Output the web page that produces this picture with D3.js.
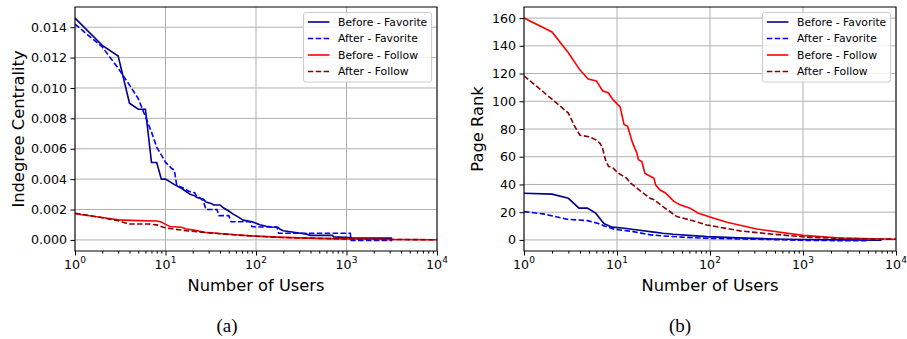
<html>
<script src="https://d3js.org/d3.v7.min.js"></script>
<body style="margin:0; background:#fff">
<svg id="chart" width="907" height="339"></svg>
<script>
// series look: same order in both panels
const seriesNames = ["Before - Favorite", "After - Favorite", "Before - Follow", "After - Follow"];
const seriesColors = ["#00008b", "#0000ff", "#ff0000", "#8b0000"];
const seriesDashed = [false, true, false, true];

// x axis (Number of Users, log)
const xDomain = [1, 10000];
const xMajor = [1, 10, 100, 1000, 10000];

// (a) Indegree Centrality, pairs of [users, value]
const icBeforeFav = [[1,0.0146],[2,0.0128],[3,0.0121],[4,0.0090],[5,0.0086],[6,0.0086],[7,0.0051],[8,0.0051],
  [9,0.0040],[10,0.0040],[12.7,0.00362],[15,0.0034],[18.7,0.0030],[21,0.0029],[22,0.0028],[26,0.0027],[28,0.0025],
  [32,0.0024],[34,0.0023],[40,0.0023],[44,0.0021],[50,0.0019],[56,0.0017],[64,0.0015],[72,0.0013],[90,0.0012],
  [100,0.0011],[110,0.0010],[130,0.0009],[150,0.00085],[175,0.00083],[185,0.0007],[200,0.0006],[260,0.0005],
  [300,0.00045],[360,0.00038],[400,0.0003],[700,0.0003],[720,0.0002],[1100,0.00015],[1150,0.00012],[3200,0.00012]];
const icAfterFav = [[1,0.0142],[2,0.0127],[3,0.0113],[4,0.0102],[5,0.0093],[6.2,0.0079],[7,0.0071],[8,0.0061],
  [9.4,0.0054],[10,0.0051],[11.7,0.0047],[12.5,0.0046],[13.3,0.0036],[16,0.0034],[18,0.0032],[21,0.0031],[22,0.0029],
  [26,0.0026],[28,0.0020],[37,0.0020],[39,0.0016],[50,0.0016],[53,0.0012],[86,0.0012],[90,0.00088],[100,0.00085],
  [170,0.00085],[178,0.00044],[1100,0.00044],[1130,-0.00003],[3200,-0.00003]];
const icBeforeFollow = [[1,0.00172],[2,0.00148],[3,0.00132],[5,0.00127],[8,0.00124],[9,0.00118],[10,0.00102],
  [11.2,0.00088],[15,0.00083],[17,0.00072],[20,0.00066],[27,0.00050],[40,0.00042],[70,0.00031],[100,0.00025],
  [200,0.00017],[500,0.00010],[1000,0.00007],[3000,0.00003],[10000,0.00001]];
const icAfterFollow = [[1,0.00176],[2,0.00146],[3,0.00127],[3.9,0.00105],[6.5,0.00105],[8,0.00099],[9.9,0.00080],
  [12.7,0.00070],[18,0.00059],[27,0.00049],[40,0.00041],[70,0.00030],[100,0.00024],[200,0.00016],[500,0.00010],
  [1000,0.00006],[3000,0.00003],[10000,0.00001]];

// (b) Page Rank
const prBeforeFav = [[1,33.7],[2,33],[3,30],[3.9,22.9],[4.8,22.9],[5.9,19.3],[7,13],[7.3,11.6],[8.9,9.2],[12,8.4],
  [16.6,7.2],[25,5.6],[31,4.8],[40,4.1],[92,2.4],[200,1.5],[480,0.7],[1000,0.3],[3000,0],[7000,-0.2]];
const prAfterFav = [[1,20.4],[1.6,18.8],[2.9,14.9],[4.8,13.9],[6.2,12],[7.3,10.1],[9.3,7.7],[15,6],[23,3.6],
  [31,2.9],[50,2],[92,1.2],[200,0.7],[500,0.2],[1000,-0.3],[3000,-0.6],[5000,-0.6]];
const prBeforeFollow = [[1,160],[2,150],[3,135],[4,122.5],[4.9,116],[6,114.7],[7,107.6],[8.1,106],[9.1,101],
  [10.8,96],[11.9,83.3],[13,82],[14.7,70],[16.3,63],[17,57.8],[18.5,56.5],[20,48],[22,46.5],[25,44.5],[26,39.7],
  [29,36],[33,34],[40.6,28],[47.6,25.3],[61,22.9],[75,19.3],[100,16.5],[152,12.8],[318,7.9],[1000,3.3],[2500,1.4],
  [10000,0.5]];
const prAfterFollow = [[1,118.4],[2,101.5],[3,91.5],[3.5,82],[4,75.5],[5,74.4],[6,72],[6.6,69.5],[7,66],[7.5,58],
  [8.1,53],[9.1,51.8],[10.3,48.2],[12.7,44.5],[14,41],[17.7,35.5],[22.7,30],[25,29],[32.8,23],[44,16.8],
  [61,14.4],[92.5,10.8],[211,6.5],[480,4.1],[1100,2],[3000,1],[10000,0.5]];

const panels = [
  { box: {left: 75, right: 437, top: 7, bottom: 251}, yDomain: [-0.00073, 0.01533],
    yTicks: [0, 0.002, 0.004, 0.006, 0.008, 0.010, 0.012, 0.014], fmt: d3.format(".3f"),
    ylabel: "Indegree Centrality", ylabelX: 24, caption: "(a)", captionX: 227,
    series: [icBeforeFav, icAfterFav, icBeforeFollow, icAfterFollow] },
  { box: {left: 524, right: 896, top: 7, bottom: 251}, yDomain: [-8, 168],
    yTicks: [0, 20, 40, 60, 80, 100, 120, 140, 160], fmt: d3.format("d"),
    ylabel: "Page Rank", ylabelX: 483, caption: "(b)", captionX: 680,
    series: [prBeforeFav, prAfterFav, prBeforeFollow, prAfterFollow] }
];

const svg = d3.select("#chart");
const font = "DejaVu Sans, sans-serif";

panels.forEach(function(p, pi) {
  const b = p.box;
  const x = d3.scaleLog().domain(xDomain).range([b.left, b.right]);
  const y = d3.scaleLinear().domain(p.yDomain).range([b.bottom, b.top]);
  const g = svg.append("g");

  // grid
  g.selectAll(".gx").data(xMajor).join("line")
    .attr("x1", d => x(d)).attr("x2", d => x(d)).attr("y1", b.top).attr("y2", b.bottom)
    .attr("stroke", "#b0b0b0").attr("stroke-width", 1);
  g.selectAll(".gy").data(p.yTicks).join("line")
    .attr("x1", b.left).attr("x2", b.right).attr("y1", d => y(d)).attr("y2", d => y(d))
    .attr("stroke", "#b0b0b0").attr("stroke-width", 1);

  // lines
  svg.append("clipPath").attr("id", "clip" + pi).append("rect")
    .attr("x", b.left).attr("y", b.top).attr("width", b.right - b.left).attr("height", b.bottom - b.top);
  const line = d3.line().x(d => x(d[0])).y(d => y(d[1]));
  p.series.forEach(function(s, i) {
    g.append("path").datum(s)
      .attr("d", line)
      .attr("clip-path", "url(#clip" + pi + ")")
      .attr("fill", "none")
      .attr("stroke", seriesColors[i])
      .attr("stroke-width", 1.6)
      .attr("stroke-dasharray", seriesDashed[i] ? "5.5,2.4" : null);
  });

  // frame
  g.append("rect").attr("x", b.left).attr("y", b.top)
    .attr("width", b.right - b.left).attr("height", b.bottom - b.top)
    .attr("fill", "none").attr("stroke", "#000").attr("stroke-width", 1);

  // y axis
  g.append("g").attr("transform", "translate(" + b.left + ",0)")
    .call(d3.axisLeft(y).tickValues(p.yTicks).tickFormat(p.fmt).tickSize(4.5).tickPadding(3.5))
    .call(a => a.select(".domain").remove())
    .attr("font-family", font).attr("font-size", 12.6);

  // x axis: major + minor ticks
  const minor = x.ticks().filter(d => xMajor.indexOf(d) < 0);
  g.append("g").attr("transform", "translate(0," + b.bottom + ")")
    .call(d3.axisBottom(x).tickValues(minor).tickFormat("").tickSize(2.5))
    .call(a => a.select(".domain").remove());
  g.append("g").attr("transform", "translate(0," + b.bottom + ")")
    .call(d3.axisBottom(x).tickValues(xMajor).tickFormat("").tickSize(4.5))
    .call(a => a.select(".domain").remove());
  const xl = g.selectAll(".xl").data(xMajor).join("text")
    .attr("x", d => x(d)).attr("y", 269)
    .attr("text-anchor", "middle").attr("font-family", font).attr("font-size", 12.6);
  xl.append("tspan").text("10");
  xl.append("tspan").attr("dy", -6).attr("font-size", 9).text(d => Math.round(Math.log10(d)));

  // axis labels
  g.append("text").attr("x", (b.left + b.right) / 2).attr("y", 291)
    .attr("text-anchor", "middle").attr("font-family", font).attr("font-size", 16.3)
    .text("Number of Users");
  g.append("text").attr("transform", "translate(" + p.ylabelX + "," + (b.top + b.bottom) / 2 + ") rotate(-90)")
    .attr("text-anchor", "middle").attr("font-family", font).attr("font-size", 16.3)
    .text(p.ylabel);

  // caption
  g.append("text").attr("x", p.captionX).attr("y", 332)
    .attr("text-anchor", "middle").attr("font-family", "Liberation Serif, serif").attr("font-size", 19)
    .text(p.caption);

  // legend (upper right)
  const fs = 10.8;
  const leg = g.append("g");
  const box = leg.append("rect");
  const rowH = 16.5, pad = 0.4 * fs, handle = 2 * fs, gap = 0.8 * fs;
  const texts = seriesNames.map(function(name, i) {
    const cy = 22 + i * rowH;
    leg.append("line").attr("y1", cy).attr("y2", cy)
      .attr("stroke", seriesColors[i]).attr("stroke-width", 1.6)
      .attr("stroke-dasharray", seriesDashed[i] ? "5.5,2.4" : null)
      .attr("class", "lh");
    return leg.append("text").attr("y", cy).attr("dy", "0.35em")
      .attr("font-family", font).attr("font-size", fs).text(name);
  });
  const tw = d3.max(texts, t => t.node().getComputedTextLength());
  const w = pad * 2 + handle + gap + tw;
  const lx = b.right - 5.4 - w;
  box.attr("x", lx).attr("y", 12.5).attr("width", w).attr("height", 69.5)
    .attr("rx", 2.5).attr("fill", "#fff").attr("fill-opacity", 0.8)
    .attr("stroke", "#cccccc").attr("stroke-width", 1);
  leg.selectAll(".lh").attr("x1", lx + pad).attr("x2", lx + pad + handle);
  texts.forEach(t => t.attr("x", lx + pad + handle + gap));
});
</script>
</body>
</html>
